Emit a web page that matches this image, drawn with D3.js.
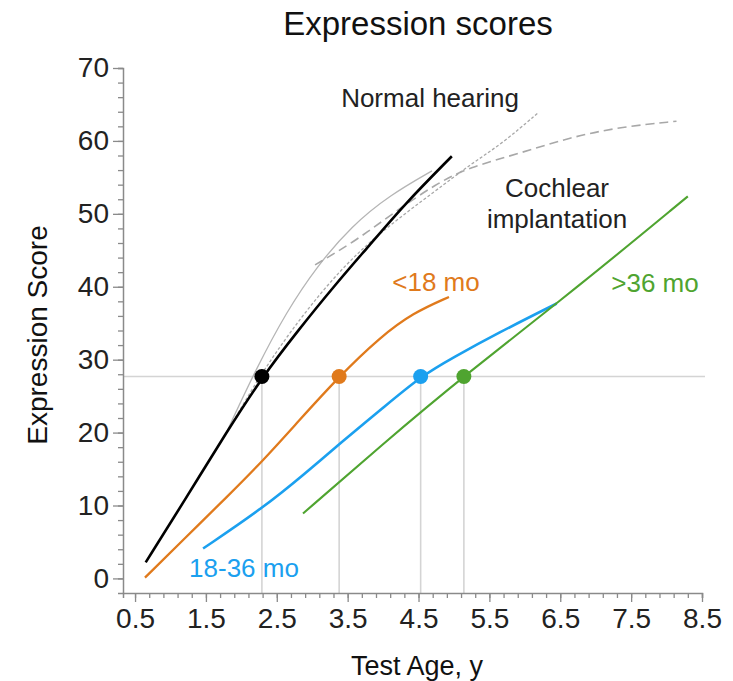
<!DOCTYPE html>
<html>
<head>
<meta charset="utf-8">
<script src="https://cdn.jsdelivr.net/npm/d3@7"></script>
<style>
body{margin:0;background:#fff;}
text{font-family:"Liberation Sans",Arial,sans-serif;}
</style>
</head>
<body>
<svg id="chart"></svg>
<script>
width=733;
height=681;

// curves: [test age, expression score]
var black_pts=[[0.65,2.2],[1.2,10.7],[1.8,20.2],[2.3,27.7],[2.8,34.0],[3.3,40.0],[3.8,45.6],[4.3,51.3],[4.97,57.9]];
var nh_upper_pts=[[1.77,19.6],[2.22,29.0],[2.64,36.6],[3.05,42.6],[3.56,48.4],[4.1,52.6],[4.69,55.9]];
var nh_dotted_pts=[[1.81,20.3],[2.29,28.3],[2.83,35.7],[3.39,42.3],[3.96,47.5],[4.76,53.3],[5.22,56.7],[5.69,59.7],[6.18,63.8]];
var ci_dashed_pts=[[3.04,43.0],[3.63,46.4],[4.14,50.1],[4.76,54.2],[5.22,56.4],[5.93,58.3],[6.64,60.5],[7.34,61.9],[8.14,62.7]];
var orange_pts=[[0.64,0.1],[1.2,5.5],[1.8,11.2],[2.31,16.2],[2.8,21.5],[3.38,27.7],[3.96,33.1],[4.42,36.4],[4.93,38.6]];
var blue_pts=[[1.46,4.1],[2.31,9.7],[2.9,14.4],[3.39,18.5],[4.0,23.4],[4.53,27.7],[4.99,30.3],[5.61,33.6],[6.45,37.7]];
var green_pts=[[2.87,8.9],[3.98,18.3],[5.13,27.7],[6.78,40.2],[8.30,52.4]];

var ref_score=27.7;
var dot_ages=[2.29,3.38,4.53,5.14];
var dot_colors=["#000000","#e07a1c","#1ba0ef","#4fa430"];

var x_ticks=[0.5,1.5,2.5,3.5,4.5,5.5,6.5,7.5,8.5];
var y_ticks=[0,10,20,30,40,50,60,70];

var svg=d3.select("#chart")
    .attr("width",width)
    .attr("height",height);

var x=d3.scaleLinear().domain([0.33,8.5]).range([123,702]);
var y=d3.scaleLinear().domain([-2,70]).range([593,68]);

// title
svg.append("text")
    .attr("x",418).attr("y",35)
    .attr("text-anchor","middle")
    .style("font-size","33px")
    .attr("fill","#111")
    .text("Expression scores");

// reference lines
svg.append("line")
    .attr("x1",x(0.33)).attr("x2",705)
    .attr("y1",y(ref_score)).attr("y2",y(ref_score))
    .attr("stroke","#d4d4d4").attr("stroke-width",1.6);
svg.selectAll(".vref").data(dot_ages).enter().append("line")
    .attr("class","vref")
    .attr("x1",function(d){return x(d)}).attr("x2",function(d){return x(d)})
    .attr("y1",y(ref_score)).attr("y2",y(-2))
    .attr("stroke","#d4d4d4").attr("stroke-width",1.6);

// axes
var y_minor=d3.range(0,71,2);
var x_minor=d3.range(0,41).map(function(i){return 0.5+i*0.2});

var yAxis=svg.append("g").attr("transform","translate("+x(0.33)+",0)");
yAxis.call(d3.axisLeft(y).tickValues(y_minor).tickSize(5).tickFormat(""));
yAxis.append("g").call(d3.axisLeft(y).tickValues(y_ticks).tickSize(10).tickPadding(4).tickFormat(d3.format("d")));

var xAxis=svg.append("g").attr("transform","translate(0,"+y(-2)+")");
xAxis.call(d3.axisBottom(x).tickValues(x_minor).tickSize(5).tickFormat(""));
xAxis.append("g").call(d3.axisBottom(x).tickValues(x_ticks).tickSize(9).tickPadding(6).tickFormat(d3.format(".1f")));

svg.selectAll(".domain").attr("stroke","#8a8a8a").attr("stroke-width",1.5);
svg.selectAll(".tick line").attr("stroke","#8a8a8a").attr("stroke-width",1.3);
svg.selectAll(".tick text").attr("fill","#222").style("font-size","28px").style("font-family","'Liberation Sans',Arial,sans-serif");
xAxis.selectAll("g > .domain").filter(function(){return this.parentNode!==xAxis.node()}).remove();
yAxis.selectAll("g > .domain").filter(function(){return this.parentNode!==yAxis.node()}).remove();

// axis titles
svg.append("text")
    .attr("x",417).attr("y",675)
    .attr("text-anchor","middle")
    .style("font-size","27px")
    .attr("fill","#111")
    .text("Test Age, y");
svg.append("text")
    .attr("transform","translate(47,335) rotate(-90)")
    .attr("text-anchor","middle")
    .style("font-size","28px")
    .attr("fill","#111")
    .text("Expression Score");

var line=d3.line()
    .x(function(d){return x(d[0])})
    .y(function(d){return y(d[1])})
    .curve(d3.curveBasis);

// normal hearing / cochlear implantation references
svg.append("path").datum(nh_upper_pts).attr("d",line)
    .attr("fill","none").attr("stroke","#b5b5b5").attr("stroke-width",1.3);
svg.append("path").datum(nh_dotted_pts).attr("d",line)
    .attr("fill","none").attr("stroke","#a8a8a8").attr("stroke-width",1.3).attr("stroke-dasharray","3,2");
svg.append("path").datum(ci_dashed_pts).attr("d",line)
    .attr("fill","none").attr("stroke","#a8a8a8").attr("stroke-width",1.6).attr("stroke-dasharray","9,5");

// group curves
var series=[
    {pts:black_pts,color:dot_colors[0],w:2.6},
    {pts:orange_pts,color:dot_colors[1],w:2.3},
    {pts:blue_pts,color:dot_colors[2],w:2.6},
    {pts:green_pts,color:dot_colors[3],w:2.1}
];
svg.selectAll(".series").data(series).enter().append("path")
    .attr("class","series")
    .attr("d",function(d){return line(d.pts)})
    .attr("fill","none")
    .attr("stroke",function(d){return d.color})
    .attr("stroke-width",function(d){return d.w});

svg.selectAll(".dot").data(dot_ages).enter().append("circle")
    .attr("class","dot")
    .attr("cx",function(d){return x(d)})
    .attr("cy",y(ref_score))
    .attr("r",7.5)
    .attr("fill",function(d,i){return dot_colors[i]});

// labels
var labels=[
    {t:"Normal hearing",x:430,y:107,c:"#222"},
    {t:"Cochlear",x:557,y:197,c:"#222"},
    {t:"implantation",x:557,y:228,c:"#222"},
    {t:"<18 mo",x:436,y:291,c:dot_colors[1]},
    {t:">36 mo",x:655,y:292,c:dot_colors[3]},
    {t:"18-36 mo",x:244,y:577,c:dot_colors[2]}
];
svg.selectAll(".lbl").data(labels).enter().append("text")
    .attr("class","lbl")
    .attr("x",function(d){return d.x})
    .attr("y",function(d){return d.y})
    .attr("text-anchor","middle")
    .style("font-size","26px")
    .attr("fill",function(d){return d.c})
    .text(function(d){return d.t});
</script>
</body>
</html>
